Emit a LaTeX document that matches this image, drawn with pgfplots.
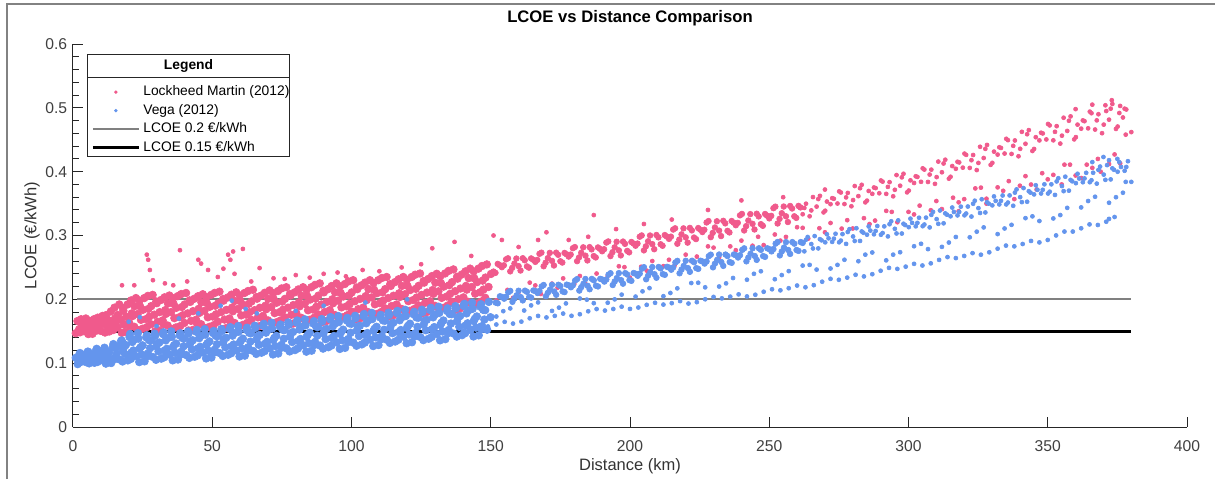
\documentclass[border=0pt]{standalone}
\usepackage{fontspec}
\setmainfont{Liberation Sans}
\usepackage{pgfplots}
\pgfplotsset{compat=1.18}
\definecolor{lm}{RGB}{240,90,140}
\definecolor{vega}{RGB}{100,149,237}
\definecolor{framegray}{RGB}{130,130,130}
\definecolor{axgray}{RGB}{38,38,38}
\pgfplotsset{
  pinkbig/.style={only marks, mark=*, mark size=2.3pt, color=lm, mark options={draw=none, fill=lm}},
  pinkmid/.style={only marks, mark=*, mark size=1.7pt, color=lm, mark options={draw=none, fill=lm}},
  pinksmall/.style={only marks, mark=*, mark size=1.2pt, color=lm, mark options={draw=none, fill=lm}},
  bluebig/.style={only marks, mark=*, mark size=2.3pt, color=vega, mark options={draw=none, fill=vega}},
  bluemid/.style={only marks, mark=*, mark size=1.7pt, color=vega, mark options={draw=none, fill=vega}},
  bluesmall/.style={only marks, mark=*, mark size=1.2pt, color=vega, mark options={draw=none, fill=vega}},
  lineleg/.style={legend image code/.code={\draw[##1] (0pt,0pt) -- (27.6pt,0pt);}},
  pinkleg/.style={legend image code/.code={\path[draw=none,fill=none] (0pt,0pt) -- (27.6pt,0pt); \fill[lm,draw=none] (13.8pt,0pt) circle (1.1pt);}},
  blueleg/.style={legend image code/.code={\path[draw=none,fill=none] (0pt,0pt) -- (27.6pt,0pt); \fill[vega,draw=none] (13.8pt,0pt) circle (1.1pt);}},
}
\begin{document}
\begin{tikzpicture}
\begin{axis}[
  scale only axis, width=668.4pt, height=229.8pt,
  xmin=0, xmax=400, ymin=0, ymax=0.6,
  axis x line*=bottom, axis y line*=left,
  axis line style={axgray, line width=0.6pt},
  xtick={0,50,100,150,200,250,300,350,400},
  ytick={0,0.1,0.2,0.3,0.4,0.5,0.6},
  minor y tick num=4,
  tick align=inside,
  major tick length=6pt, minor tick length=3.6pt,
  tick style={axgray, line width=0.6pt},
  /pgf/number format/assume math mode=true,
  tick label style={font=\fontsize{9.4}{11}\selectfont, color=black!75},
  xticklabel style={yshift=-4.5pt},
  xlabel={Distance (km)}, ylabel={LCOE (€/kWh)},
  label style={font=\fontsize{9.9}{12}\selectfont, color=black!80},
  xlabel style={at={(axis description cs:0.5,-0.1018)}, anchor=center},
  ylabel style={at={(axis description cs:-0.0368,0.5)}, anchor=center},
  title={LCOE vs Distance Comparison},
  title style={at={(axis description cs:0.5,1.042)}, anchor=center, font=\bfseries\fontsize{10}{12}\selectfont},
  legend cell align=left,
  legend style={at={(axis description cs:0.01257,0.9138)}, anchor=north west, draw=none, fill=none,
    inner xsep=2.4pt, inner ysep=3.3pt, row sep=0pt, column sep=0pt,
    nodes={inner xsep=1.8pt, inner ysep=1.8pt},
    font=\fontsize{8.3}{10}\selectfont},
]
% ---------------- Lockheed Martin (2012): dense region 0-150 km
\addplot[pinkbig, forget plot] coordinates {
(1,.147)(2.2,.153)(3.1,.160)(1.6,.166)
(4,.150)(5.2,.157)(6.1,.165)(4.6,.170)
(7,.146)(8.2,.154)(9.1,.161)(7.6,.169)
(10,.1505)(11.2,.161)(12.1,.167)(10.6,.174)
(13,.1496)(14.2,.160)(15.1,.1702)(13.6,.181)
(16,.156)(17.2,.168)(18.1,.182)(16.6,.192)
(19,.149)(20.2,.163)(21.1,.178)(19.6,.192)
(22,.157)(23.2,.177)(24.1,.189)(22.6,.202)
(25,.154)(26.2,.169)(27.1,.185)(25.6,.202)
(28,.161)(29.2,.176)(30.1,.194)(28.6,.207)
(31,.151)(32.2,.167)(33.1,.183)(31.6,.199)
(34,.159)(35.2,.180)(36.1,.193)(34.6,.206)
(37,.156)(38.2,.172)(39.1,.188)(37.6,.205)
(40,.163)(41.2,.178)(42.1,.196)(40.6,.210)
(43,.152)(44.2,.168)(45.1,.185)(43.6,.201)
(46,.161)(47.2,.182)(48.1,.194)(46.6,.208)
(49,.157)(50.2,.173)(51.1,.190)(49.6,.207)
(52,.165)(53.2,.180)(54.1,.198)(52.6,.212)
(55,.155)(56.2,.170)(57.1,.187)(55.6,.203)
(58,.163)(59.2,.185)(60.1,.197)(58.6,.211)
(61,.160)(62.2,.176)(63.1,.193)(61.6,.210)
(64,.168)(65.2,.183)(66.1,.201)(64.6,.215)
(67,.158)(68.2,.174)(69.1,.190)(67.6,.206)
(70,.167)(71.2,.188)(72.1,.200)(70.6,.214)
(73,.164)(74.2,.180)(75.1,.1965)(73.6,.213)
(76,.172)(77.2,.187)(78.1,.206)(76.6,.219)
(79,.162)(80.2,.178)(81.1,.195)(79.6,.211)
(82,.171)(83.2,.193)(84.1,.205)(82.6,.219)
(85,.168)(86.2,.184)(87.1,.201)(85.6,.219)
(88,.1765)(89.2,.192)(90.1,.211)(88.6,.225)
(91,.166)(92.2,.183)(93.1,.200)(91.6,.216)
(94,.1755)(95.2,.198)(96.1,.210)(94.6,.225)
(97,.172)(98.2,.189)(99.1,.206)(97.6,.224)
(100,.181)(101.2,.197)(102.1,.216)(100.6,.230)
(103,.170)(104.2,.187)(105.1,.205)(103.6,.222)
(106,.180)(107.2,.203)(108.1,.215)(106.6,.230)
(109,.177)(110.2,.194)(111.1,.211)(109.6,.230)
(112,.186)(113.2,.202)(114.1,.221)(112.6,.235)
(115,.175)(116.2,.192)(117.1,.2095)(115.6,.227)
(118,.185)(119.2,.208)(120.1,.221)(118.6,.235)
(121,.182)(122.2,.199)(123.1,.2165)(121.6,.235)
(124,.1906)(125.2,.207)(126.1,.2262)(124.6,.2405)
(127,.180)(128.2,.197)(129.1,.2145)(127.6,.232)
(130,.1898)(131.2,.2125)(132.1,.2255)(130.6,.240)
(133,.1867)(134.2,.2044)(135.1,.2221)(133.6,.2405)
(136,.1962)(137.2,.2127)(138.1,.2324)(136.6,.2469)
(139,.1858)(140.2,.2031)(141.1,.221)(139.6,.2389)
(142,.196)(143.2,.2194)(144.1,.2328)(142.6,.2481)
(145,.1929)(146.2,.2111)(147.1,.2293)(145.6,.2481)
(148,.2025)(149.2,.2194)(150.1,.2398)(148.6,.2547)
(2.5,.1483)(3.4,.1552)(4.1,.1621)(2.9,.1688)
(5.5,.1456)(6.4,.1523)(7.1,.159)(5.9,.1665)
(8.5,.1511)(9.4,.1589)(10.1,.1667)(8.9,.1713)
(11.5,.148)(12.4,.1576)(13.1,.1668)(11.9,.1753)
(14.5,.152)(15.4,.1638)(16.1,.1756)(14.9,.187)
(17.5,.1475)(18.4,.1601)(19.1,.1727)(17.9,.1867)
(20.5,.1584)(21.4,.1738)(22.1,.1893)(20.9,.1984)
(23.5,.1516)(24.4,.1679)(25.1,.1836)(23.9,.1981)
(26.5,.1564)(27.4,.1729)(28.1,.1894)(26.9,.2054)
(29.5,.1499)(30.4,.1649)(31.1,.1799)(29.9,.1966)
(32.5,.1611)(33.4,.1773)(34.1,.1936)(32.9,.2032)
(35.5,.1536)(36.4,.1705)(37.1,.1867)(35.9,.2018)
(38.5,.1581)(39.4,.1751)(40.1,.192)(38.9,.2083)
(41.5,.1512)(42.4,.1663)(43.1,.1815)(41.9,.1984)
(44.5,.1624)(45.4,.1788)(46.1,.1952)(44.9,.2049)
(47.5,.1548)(48.4,.1719)(49.1,.1883)(47.9,.2035)
(50.5,.1595)(51.4,.1766)(52.1,.1936)(50.9,.2101)
(53.5,.1531)(54.4,.1683)(55.1,.1835)(53.9,.2005)
(56.5,.1649)(57.4,.1813)(58.1,.1976)(56.9,.2073)
(59.5,.1579)(60.4,.1749)(61.1,.1912)(59.9,.2063)
(62.5,.163)(63.4,.1799)(64.1,.1968)(62.9,.2131)
(65.5,.1567)(66.4,.1718)(67.1,.1868)(65.9,.2036)
(68.5,.1684)(69.4,.1846)(70.1,.2008)(68.9,.2104)
(71.5,.1615)(72.4,.1784)(73.1,.1946)(71.9,.2097)
(74.5,.1668)(75.4,.1837)(76.1,.2007)(74.9,.2171)
(77.5,.1605)(78.4,.1758)(79.1,.191)(77.9,.2081)
(80.5,.1726)(81.4,.1891)(82.1,.2057)(80.9,.2155)
(83.5,.1656)(84.4,.1829)(85.1,.1996)(83.9,.215)
(86.5,.171)(87.4,.1884)(88.1,.2058)(86.9,.2226)
(89.5,.1645)(90.4,.1802)(91.1,.1958)(89.9,.2133)
(92.5,.1768)(93.4,.1939)(94.1,.2109)(92.9,.2209)
(95.5,.1697)(96.4,.1874)(97.1,.2045)(95.9,.2204)
(98.5,.1752)(99.4,.193)(100.1,.2109)(98.9,.2281)
(101.5,.1686)(102.4,.1846)(103.1,.2007)(101.9,.2186)
(104.5,.1814)(105.4,.1987)(106.1,.216)(104.9,.2263)
(107.5,.1742)(108.4,.1922)(109.1,.2096)(107.9,.2257)
(110.5,.1799)(111.4,.198)(112.1,.216)(110.9,.2334)
(113.5,.1734)(114.4,.1895)(115.1,.2057)(113.9,.2237)
(116.5,.1862)(117.4,.2037)(118.1,.2211)(116.9,.2314)
(119.5,.179)(120.4,.1972)(121.1,.2146)(119.9,.2308)
(122.5,.1848)(123.4,.2029)(124.1,.2211)(122.9,.2386)
(125.5,.1782)(126.4,.1944)(127.1,.2106)(125.9,.2287)
(128.5,.1911)(129.4,.2086)(130.1,.2261)(128.9,.2365)
(131.5,.1841)(132.4,.2023)(133.1,.2199)(131.9,.2362)
(134.5,.1902)(135.4,.2085)(136.1,.2269)(134.9,.2446)
(137.5,.1838)(138.4,.2003)(139.1,.2169)(137.9,.2354)
(140.5,.1973)(141.4,.2152)(142.1,.2332)(140.9,.2438)
(143.5,.1902)(144.4,.2089)(145.1,.227)(143.9,.2438)
(146.5,.1964)(147.4,.2153)(148.1,.2341)(146.9,.2523)
};
% ---------------- Lockheed Martin (2012): upper band 150-260 km
\addplot[pinkmid, forget plot] coordinates {
(151,.2435)(152.5,.2555)(154,.2504)(155.5,.2626)(157,.2438)(158.5,.2561)(160,.252)(161.5,.2644)
(163,.2516)(164.5,.2641)(166,.2587)(167.5,.2713)(169,.2518)(170.5,.2646)(172,.2602)(173.5,.2731)
(175,.2597)(176.5,.2727)(178,.267)(179.5,.2801)(181,.2598)(182.5,.273)(184,.2684)(185.5,.2818)
(187,.2678)(188.5,.2813)(190,.2753)(191.5,.2889)(193,.2678)(194.5,.2815)(196,.2767)(197.5,.2905)
(199,.2759)(200.5,.2899)(202,.284)(203.5,.2981)(205,.2767)(206.5,.2909)(208,.2865)(209.5,.3008)
(211,.2863)(212.5,.3007)(214,.2947)(215.5,.3093)(217,.2871)(218.5,.3018)(220,.2971)(221.5,.3119)
(223,.2968)(224.5,.3117)(226,.3054)(227.5,.3204)(229,.2974)(230.5,.3126)(232,.3077)(233.5,.323)
(235,.3073)(236.5,.3227)(238,.3161)(239.5,.3316)(241,.3079)(242.5,.3235)(244,.3183)(245.5,.3341)
(247,.3178)(248.5,.3337)(250,.3268)(251.5,.3428)(253,.3188)(254.5,.3349)(256,.3301)(257.5,.3463)
(259,.3301)(260.5,.3464)
(151.7,.2415)(153.2,.2536)(154.7,.2533)(156.2,.2643)(157.7,.2493)(159.2,.264)(160.7,.2451)(162.2,.2612)
(163.7,.2496)(165.2,.2621)(166.7,.2617)(168.2,.2731)(169.7,.2574)(171.2,.2728)(172.7,.253)(174.2,.2698)
(175.7,.2576)(177.2,.2706)(178.7,.2701)(180.2,.2819)(181.7,.2656)(183.2,.2815)(184.7,.2609)(186.2,.2783)
(187.7,.2656)(189.2,.2791)(190.7,.2785)(192.2,.2907)(193.7,.2738)(195.2,.2902)(196.7,.2688)(198.2,.2869)
(199.7,.2736)(201.2,.2876)(202.7,.2874)(204.2,.3001)(205.7,.283)(207.2,.3)(208.7,.2785)(210.2,.2971)
(211.7,.2839)(213.2,.2984)(214.7,.2982)(216.2,.3113)(217.7,.2936)(219.2,.3112)(220.7,.2888)(222.2,.308)
(223.7,.2944)(225.2,.3093)(226.7,.309)(228.2,.3226)(229.7,.3041)(231.2,.3223)(232.7,.2991)(234.2,.319)
(235.7,.3048)(237.2,.3202)(238.7,.3198)(240.2,.3338)(241.7,.3147)(243.2,.3335)(244.7,.3094)(246.2,.3299)
(247.7,.3152)(249.2,.3311)(250.7,.3308)(252.2,.3452)(253.7,.3261)(255.2,.3454)(256.7,.3211)(258.2,.3423)
(259.7,.3276)(261.2,.344)
};
% ---------------- Lockheed Martin (2012): sparse points
\addplot[pinksmall, pinkleg] coordinates {
(262,.3333)(263.2,.3498)(264.5,.3301)(265.7,.3602)(267,.3453)(268.2,.3621)(269.5,.3362)(270.7,.3532)
(272,.3491)(273.2,.3576)(274.5,.3501)(275.7,.3674)(277,.3493)(278.2,.3667)(279.5,.3458)(280.7,.3775)
(282,.3617)(283.2,.3794)(284.5,.3519)(285.7,.3698)(287,.3653)(288.2,.3743)(289.5,.3662)(290.7,.3844)
(292,.3652)(293.2,.3836)(294.5,.3614)(295.7,.3947)(297,.378)(298.2,.3967)(299.5,.3676)(300.7,.3864)
(302,.3823)(303.2,.3918)(304.5,.3841)(305.7,.4033)(307,.3839)(308.2,.4032)(309.5,.3809)(310.7,.4158)
(312,.3991)(313.2,.4187)(314.5,.389)(315.7,.4088)(317,.4045)(318.2,.4145)(319.5,.4063)(320.7,.4263)
(322,.4059)(323.2,.4261)(324.5,.4025)(325.7,.439)(327,.4214)(328.2,.4419)(329.5,.4107)(330.7,.4314)
(332,.4268)(333.2,.4372)(334.5,.4284)(335.7,.4494)(337,.4278)(338.2,.4489)(339.5,.4241)(340.7,.4624)
(342,.4437)(343.2,.4651)(344.5,.4324)(345.7,.454)(347,.449)(348.2,.4599)(349.5,.4505)(350.7,.4725)
(352,.4491)(353.2,.4713)(354.5,.444)(355.7,.4845)(357,.4638)(358.2,.4866)(359.5,.4506)(360.7,.4737)
(362,.4674)(363.2,.4791)(364.5,.4679)(365.7,.4916)(367,.466)(368.2,.49)(369.5,.4603)(370.7,.504)
(372,.4815)(373.2,.5061)(374.5,.467)(375.7,.4919)(377,.4849)(378.2,.4974)
(262.6,.3432)(265.1,.3393)(267.6,.3571)(270.1,.3388)(272.6,.3585)(275.1,.3691)(277.6,.3597)(280.1,.3555)
(282.6,.3741)(285.1,.3546)(287.6,.3752)(290.1,.3862)(292.6,.3762)(295.1,.3716)(297.6,.3911)(300.1,.3704)
(302.6,.3928)(305.1,.4052)(307.6,.3955)(310.1,.3915)(312.6,.4128)(315.1,.392)(317.6,.4155)(320.1,.4283)
(322.6,.418)(325.1,.4137)(327.6,.4358)(330.1,.4138)(332.6,.4382)(335.1,.4515)(337.6,.4405)(340.1,.4358)
(342.6,.4587)(345.1,.4356)(347.6,.461)(350.1,.4747)(352.6,.4624)(355.1,.4564)(357.6,.4798)(360.1,.4541)
(362.6,.4803)(365.1,.494)(367.6,.4804)(370.1,.4737)(372.6,.4987)(375.1,.4707)(377.6,.4987)
(373,.512)(376,.503)(378,.458)(380,.462)(371,.495)(366,.505)(360,.498)
(152,.1986)(156,.2148)(160,.211)(164,.2262)(168,.2084)(172,.2246)(176,.2328)(180,.224)
(184,.2242)(188,.2404)(192,.2366)(196,.2518)(200,.234)(204,.251)(208,.26)(212,.252)
(216,.253)(220,.27)(224,.267)(228,.283)(232,.266)(236,.283)(240,.292)(244,.284)
(248,.285)(252,.3016)(256,.2978)(260,.313)(264,.2952)(268,.3114)(272,.3196)(276,.3108)
(280,.311)(284,.3272)(288,.3234)(292,.3386)(296,.3208)(300,.337)(304,.3468)(308,.3396)
(312,.3414)(316,.3592)(320,.357)(324,.3738)(328,.3576)(332,.3754)(336,.3852)(340,.378)
(344,.3798)(348,.3976)(352,.395)(356,.411)(360,.394)(364,.411)(368,.42)(372,.412)(376,.413)
(158,.2024)(166,.2218)(174,.2182)(182,.2366)(190,.2310)(198,.2504)(206,.2450)(214,.2620)
(222,.2600)(230,.2810)(238,.2770)(246,.2980)(254,.2920)(262,.3120)(270,.3050)(278,.3240)
(286,.3180)(294,.3370)(302,.3330)(310,.3540)(318,.3520)(326,.3750)(334,.3700)(342,.3930)
(350,.3880)(358,.4110)(366,.4060)(374,.4270)
(318,.338)(328,.35)(338,.357)(346,.372)(355,.38)(362,.39)(369,.40)
(17.6,.222)(22,.222)(26.5,.27)(27,.262)(27.6,.246)(28.7,.23)(33,.225)(36,.222)(38.4,.277)
(41,.228)(45,.262)(46,.256)(48.5,.246)(52,.235)(54,.248)(55.7,.27)(56.5,.262)(57.5,.275)
(58,.24)(61,.279)(64,.228)(67,.249)(72,.233)(76,.232)(80,.238)(85,.234)(90,.24)(95,.242)
(98,.236)(104,.246)(110,.244)(118,.25)(125,.255)(129,.28)(137,.29)(143,.268)
(151,.30)(154,.293)(160,.282)(167,.293)(170,.305)(178,.293)(185,.298)(187,.332)(195,.31)
(205,.318)(215,.325)(228,.34)(240,.355)(255,.36)(270,.372)
};
\addlegendentry{Lockheed Martin (2012)}
% ---------------- Vega (2012): dense region 0-150 km
\addplot[bluebig, forget plot] coordinates {
(1.7,.0985)(2.9,.1034)(1,.1084)(2.3,.1135)
(4.7,.1016)(5.9,.109)(4,.1132)(5.3,.1181)
(7.7,.1006)(8.9,.107)(7,.1133)(8.3,.1199)
(10.7,.1042)(11.9,.1107)(10,.1185)(11.3,.1242)
(13.7,.1002)(14.9,.1084)(13,.1169)(14.3,.1253)
(16.7,.1058)(17.9,.1189)(16,.1264)(17.3,.135)
(19.7,.1044)(20.9,.1164)(19,.1284)(20.3,.1409)
(22.7,.1108)(23.9,.1226)(22,.1367)(23.3,.147)
(25.7,.1029)(26.9,.1152)(25,.1279)(26.3,.1405)
(28.7,.1097)(29.9,.1261)(28,.1355)(29.3,.1463)
(31.7,.1071)(32.9,.1198)(31,.1324)(32.3,.1456)
(34.7,.1134)(35.9,.1252)(34,.1394)(35.3,.1498)
(37.7,.1057)(38.9,.118)(37,.1308)(38.3,.1436)
(40.7,.1126)(41.9,.1293)(40,.1388)(41.3,.1497)
(43.7,.1101)(44.9,.123)(43,.1358)(44.3,.1491)
(46.7,.1166)(47.9,.1285)(46,.1429)(47.3,.1534)
(49.7,.1088)(50.9,.1212)(49,.1341)(50.3,.1471)
(52.7,.1158)(53.9,.1327)(52,.1424)(53.3,.1535)
(55.7,.1132)(56.9,.1265)(55,.1397)(56.3,.1534)
(58.7,.1199)(59.9,.1323)(58,.1472)(59.3,.1581)
(61.7,.1118)(62.9,.1249)(61,.1384)(62.3,.152)
(64.7,.1191)(65.9,.1369)(64,.1471)(65.3,.1587)
(67.7,.1164)(68.9,.1303)(67,.1442)(68.3,.1586)
(70.7,.1234)(71.9,.1364)(70,.152)(71.3,.1634)
(73.7,.1151)(74.9,.1287)(73,.1428)(74.3,.1569)
(76.7,.1231)(77.9,.1414)(76,.1519)(77.3,.1639)
(79.7,.1205)(80.9,.1347)(79,.1489)(80.3,.1636)
(82.7,.128)(83.9,.1412)(82,.157)(83.3,.1686)
(85.7,.1196)(86.9,.1333)(85,.1477)(86.3,.162)
(88.7,.1276)(89.9,.1462)(88,.1568)(89.3,.1691)
(91.7,.125)(92.9,.1394)(91,.1538)(92.3,.1688)
(94.7,.1325)(95.9,.1459)(94,.162)(95.3,.1738)
(97.7,.124)(98.9,.138)(97,.1525)(98.3,.167)
(100.7,.1321)(101.9,.151)(100,.1618)(101.3,.1742)
(103.7,.1294)(104.9,.144)(103,.1586)(104.3,.1738)
(106.7,.137)(107.9,.1506)(106,.1669)(107.3,.1788)
(109.7,.1284)(110.9,.1425)(109,.157)(110.3,.1716)
(112.7,.1366)(113.9,.1556)(112,.1665)(113.3,.179)
(115.7,.1339)(116.9,.1486)(115,.1633)(116.3,.1786)
(118.7,.1415)(119.9,.1552)(118,.1716)(119.3,.1836)
(121.7,.1328)(122.9,.147)(121,.1618)(122.3,.1766)
(124.7,.141)(125.9,.1602)(124,.1712)(125.3,.1838)
(127.7,.1383)(128.9,.1531)(127,.1679)(128.3,.1833)
(130.7,.146)(131.9,.1598)(130,.1763)(131.3,.1884)
(133.7,.1376)(134.9,.152)(133,.1669)(134.3,.1818)
(136.7,.1463)(137.9,.1657)(136,.1767)(137.3,.1894)
(139.7,.1439)(140.9,.1589)(139,.1739)(140.3,.1895)
(142.7,.1521)(143.9,.166)(142,.1827)(143.3,.1949)
(145.7,.1436)(146.9,.1581)(145,.1732)(146.3,.1883)
(148.7,.1524)(149.9,.172)(148,.1831)(149.3,.196)
(2.8,.1019)(3.7,.1073)(3.3,.1127)(2.5,.1159)
(5.8,.0997)(6.7,.106)(6.3,.112)(5.5,.1176)
(8.8,.1019)(9.7,.1088)(9.3,.1158)(8.5,.1225)
(11.8,.0993)(12.7,.1065)(12.3,.1137)(11.5,.1217)
(14.8,.106)(15.7,.1152)(15.3,.1245)(14.5,.1299)
(17.8,.1026)(18.7,.114)(18.3,.1251)(17.5,.1354)
(20.8,.1067)(21.7,.1199)(21.3,.1331)(20.5,.1458)
(23.8,.1017)(24.7,.1135)(24.3,.1252)(23.5,.1384)
(26.8,.1108)(27.7,.1235)(27.3,.1361)(26.5,.1437)
(29.8,.1053)(30.7,.1184)(30.3,.1311)(29.5,.1429)
(32.8,.1093)(33.7,.1225)(33.3,.1357)(32.5,.1484)
(35.8,.1044)(36.7,.1162)(36.3,.1281)(35.5,.1413)
(38.8,.1137)(39.7,.1265)(39.3,.1393)(38.5,.1469)
(41.8,.1083)(42.7,.1216)(42.3,.1345)(41.5,.1464)
(44.8,.1123)(45.7,.1257)(45.3,.1391)(44.5,.152)
(47.8,.1074)(48.7,.1194)(48.3,.1314)(47.5,.1448)
(50.8,.1168)(51.7,.1297)(51.3,.1427)(50.5,.1504)
(53.8,.1113)(54.7,.125)(54.3,.1381)(53.5,.1503)
(56.8,.1155)(57.7,.1293)(57.3,.1431)(56.5,.1564)
(59.8,.1104)(60.7,.1229)(60.3,.1354)(59.5,.1493)
(62.8,.1202)(63.7,.1338)(63.3,.1475)(62.5,.1555)
(65.8,.1145)(66.7,.1288)(66.3,.1426)(65.5,.1553)
(68.8,.1188)(69.7,.1333)(69.3,.1478)(68.5,.1617)
(71.8,.1136)(72.7,.1266)(72.3,.1396)(71.5,.1542)
(74.8,.1241)(75.7,.1382)(75.3,.1523)(74.5,.1606)
(77.8,.1184)(78.7,.1331)(78.3,.1472)(77.5,.1603)
(80.8,.1232)(81.7,.1379)(81.3,.1527)(80.5,.1669)
(83.8,.118)(84.7,.1312)(84.3,.1445)(83.5,.1593)
(86.8,.1287)(87.7,.143)(87.3,.1573)(86.5,.1658)
(89.8,.1228)(90.7,.1377)(90.3,.1521)(89.5,.1655)
(92.8,.1276)(93.7,.1426)(93.3,.1576)(92.5,.1721)
(95.8,.1223)(96.7,.1358)(96.3,.1492)(95.5,.1643)
(98.8,.1331)(99.7,.1477)(99.3,.1623)(98.5,.1709)
(101.8,.1273)(102.7,.1424)(102.3,.157)(101.5,.1705)
(104.8,.1322)(105.7,.1473)(105.3,.1625)(104.5,.1771)
(107.8,.1268)(108.7,.1404)(108.3,.1539)(107.5,.1691)
(110.8,.1377)(111.7,.1523)(111.3,.167)(110.5,.1757)
(113.8,.1317)(114.7,.147)(114.3,.1616)(113.5,.1752)
(116.8,.1366)(117.7,.1519)(117.3,.1672)(116.5,.1819)
(119.8,.1312)(120.7,.1449)(120.3,.1585)(119.5,.1738)
(122.8,.1421)(123.7,.1569)(123.3,.1717)(122.5,.1804)
(125.8,.1361)(126.7,.1515)(126.3,.1663)(125.5,.18)
(128.8,.1411)(129.7,.1565)(129.3,.1718)(128.5,.1867)
(131.8,.1358)(132.7,.1496)(132.3,.1633)(131.5,.1787)
(134.8,.1472)(135.7,.1621)(135.3,.177)(134.5,.1859)
(137.8,.1416)(138.7,.157)(138.3,.172)(137.5,.1858)
(140.8,.147)(141.7,.1625)(141.3,.178)(140.5,.193)
(143.8,.1418)(144.7,.1557)(144.3,.1696)(143.5,.1852)
(146.8,.1533)(147.7,.1684)(147.3,.1835)(146.5,.1924)
};
% ---------------- Vega (2012): upper band 150-260 km
\addplot[bluemid, forget plot] coordinates {
(151.8,.1948)(153.3,.2048)(154.8,.201)(156.3,.2111)(157.8,.1961)(159.3,.2063)(160.8,.2034)(162.3,.2136)
(163.8,.2036)(165.3,.2139)(166.8,.2099)(168.3,.2203)(169.8,.2049)(171.3,.2153)(172.8,.2123)(174.3,.2228)
(175.8,.2124)(177.3,.223)(178.8,.2189)(180.3,.2295)(181.8,.2137)(183.3,.2244)(184.8,.2212)(186.3,.232)
(187.8,.2213)(189.3,.2321)(190.8,.2278)(192.3,.2387)(193.8,.2224)(195.3,.2334)(196.8,.2301)(198.3,.2411)
(199.8,.2301)(201.3,.2412)(202.8,.2369)(204.3,.2481)(205.8,.2314)(207.3,.2426)(208.8,.2394)(210.3,.2507)
(211.8,.2395)(213.3,.2509)(214.8,.2464)(216.3,.2578)(217.8,.2408)(219.3,.2523)(220.8,.2489)(222.3,.2605)
(223.8,.2489)(225.3,.2605)(226.8,.256)(228.3,.2677)(229.8,.2501)(231.3,.2619)(232.8,.2584)(234.3,.2702)
(235.8,.2584)(237.3,.2703)(238.8,.2655)(240.3,.2775)(241.8,.2595)(243.3,.2715)(244.8,.2679)(246.3,.28)
(247.8,.2678)(249.3,.28)(250.8,.2751)(252.3,.2873)(253.8,.2688)(255.3,.2811)(256.8,.2773)(258.3,.2897)
(259.8,.2773)(261.3,.2897)
(152.5,.1938)(154,.2039)(155.5,.2041)(157,.2132)(158.5,.2013)(160,.2135)(161.5,.1983)(163,.2117)
(164.5,.2027)(166,.213)(167.5,.2131)(169,.2225)(170.5,.2102)(172,.2228)(173.5,.2071)(175,.2208)
(176.5,.2114)(178,.222)(179.5,.2221)(181,.2317)(182.5,.2191)(184,.2319)(185.5,.2158)(187,.2298)
(188.5,.2202)(190,.2311)(191.5,.2311)(193,.2409)(194.5,.2279)(196,.2411)(197.5,.2245)(199,.2389)
(200.5,.229)(202,.2401)(203.5,.2403)(205,.2504)(206.5,.2371)(208,.2506)(209.5,.2338)(211,.2485)
(212.5,.2384)(214,.2498)(215.5,.2499)(217,.2603)(218.5,.2466)(220,.2604)(221.5,.2431)(223,.2582)
(224.5,.2477)(226,.2594)(227.5,.2595)(229,.27)(230.5,.256)(232,.2702)(233.5,.2524)(235,.2679)
(236.5,.2572)(238,.2691)(239.5,.2691)(241,.2799)(242.5,.2655)(244,.28)(245.5,.2618)(247,.2775)
(248.5,.2665)(250,.2787)(251.5,.2787)(253,.2898)(254.5,.275)(256,.2897)(257.5,.2711)(259,.2872)
(260.5,.2759)(262,.2884)
};
% ---------------- Vega (2012): sparse points
\addplot[bluesmall, blueleg] coordinates {
(262.6,.2752)(263.8,.2977)(265.1,.2866)(266.3,.2991)(267.6,.2798)(268.8,.2924)(270.1,.2893)(271.3,.2956)
(272.6,.29)(273.8,.3027)(275.1,.2894)(276.3,.3022)(277.6,.2869)(278.8,.31)(280.1,.2985)(281.3,.3114)
(282.6,.2915)(283.8,.3044)(285.1,.3012)(286.3,.3077)(287.6,.3019)(288.8,.3149)(290.1,.3012)(291.3,.3143)
(292.6,.2986)(293.8,.3223)(295.1,.3105)(296.3,.3237)(297.6,.3031)(298.8,.3164)(300.1,.3131)(301.3,.3198)
(302.6,.3144)(303.8,.3278)(305.1,.3146)(306.3,.328)(307.6,.3127)(308.8,.337)(310.1,.3257)(311.3,.3392)
(312.6,.3191)(313.8,.3327)(315.1,.3301)(316.3,.3369)(317.6,.3315)(318.8,.3452)(320.1,.3316)(321.3,.3454)
(322.6,.3297)(323.8,.3545)(325.1,.3429)(326.3,.3568)(327.6,.3361)(328.8,.35)(330.1,.3472)(331.3,.3542)
(332.6,.3487)(333.8,.3627)(335.1,.3487)(336.3,.3628)(337.6,.3466)(338.8,.3722)(340.1,.3601)(341.3,.3743)
(342.6,.3529)(343.8,.3672)(345.1,.3644)(346.3,.3716)(347.6,.3658)(348.8,.3802)(350.1,.3658)(351.3,.3802)
(352.6,.3636)(353.8,.3897)(355.1,.3775)(356.3,.3921)(357.6,.3703)(358.8,.3849)(360.1,.382)(361.3,.3893)
(362.6,.3835)(363.8,.3982)(365.1,.3835)(366.3,.3983)(367.6,.3813)(368.8,.408)(370.1,.3954)(371.3,.4103)
(372.6,.3879)(373.8,.4029)(375.1,.3999)(376.3,.4074)(377.6,.4014)(378.8,.4164)
(263.2,.2934)(265.7,.2797)(268.2,.2943)(270.7,.302)(273.2,.2951)(275.7,.292)(278.2,.3055)(280.7,.2914)
(283.2,.3063)(285.7,.3142)(288.2,.3071)(290.7,.3039)(293.2,.3177)(295.7,.3032)(298.2,.3184)(300.7,.3264)
(303.2,.3198)(305.7,.3172)(308.2,.3323)(310.7,.3183)(313.2,.3347)(315.7,.3438)(318.2,.337)(320.7,.3344)
(323.2,.3497)(325.7,.3353)(328.2,.3521)(330.7,.3612)(333.2,.3543)(335.7,.3516)(338.2,.3672)(340.7,.3523)
(343.2,.3694)(345.7,.3787)(348.2,.3716)(350.7,.3686)(353.2,.3847)(355.7,.3695)(358.2,.3871)(360.7,.3967)
(363.2,.3894)(365.7,.3865)(368.2,.4028)(370.7,.3872)(373.2,.4052)(375.7,.4149)(378.2,.4074)
(370,.423)(372,.418)(366,.415)(378,.384)(380,.384)(375,.42)
(152,.1731)(157,.1858)(162,.1825)(167,.1952)(172,.1819)(177,.1936)(182,.2013)(187,.194)
(192,.1947)(197,.2074)(202,.2043)(207,.2176)(212,.2049)(217,.2172)(222,.2255)(227,.2188)
(232,.2201)(237,.2334)(242,.2307)(247,.244)(252,.2315)(257,.2442)(262,.2529)(267,.2466)
(272,.2483)(277,.262)(282,.2597)(287,.2734)(292,.2611)(297,.2738)(302,.2832)(307,.2787)
(312,.2822)(317,.2977)(322,.2972)(327,.3127)(332,.3022)(337,.3167)(342,.3272)(347,.3227)
(352,.3267)(357,.3433)(362,.344)(367,.3607)(372,.3513)(377,.367)
(154.5,.1815)(164.5,.1905)(174.5,.1870)(184.5,.1995)(194.5,.2000)(204.5,.2125)(214.5,.2100)
(224.5,.2260)(234.5,.2250)(244.5,.2400)(254.5,.2380)(264.5,.2540)(274.5,.2540)(284.5,.2700)
(294.5,.2700)(304.5,.2870)(314.5,.2890)(324.5,.3060)(334.5,.3110)(344.5,.3300)(354.5,.3320)
(364.5,.3540)(374.5,.3600)
(140,.150)(143,.1552)(146,.1593)(149,.1575)(152,.1606)(155,.1648)(158,.162)(161,.1651)
(164,.1703)(167,.174)(170,.1716)(173,.1741)(176,.1777)(179,.1742)(182,.1767)(185,.1813)
(188,.1848)(191,.1824)(194,.1849)(197,.1885)(200,.185)(203,.1872)(206,.1914)(209,.1946)
(212,.1918)(215,.194)(218,.1972)(221,.1934)(224,.1956)(227,.2001)(230,.2038)(233,.2015)
(236,.2042)(239,.2078)(242,.2045)(245,.2072)(248,.2119)(251,.2158)(254,.2141)(257,.2174)
(260,.2216)(263,.2189)(266,.2222)(269,.2276)(272,.2321)(275,.2306)(278,.234)(281,.2385)
(284,.2359)(287,.2394)(290,.2448)(293,.2493)(296,.2477)(299,.2512)(302,.2556)(305,.253)
(308,.2564)(311,.2618)(314,.2662)(317,.2646)(320,.268)(323,.2724)(326,.2699)(329,.2737)
(332,.2794)(335,.2842)(338,.283)(341,.2867)(344,.2915)(347,.2892)(350,.293)(353,.3001)
(356,.3062)(359,.3062)(362,.3113)(365,.3174)(368,.3165)(371,.3216)(374,.329)(372,.326)
(20,.165)(24,.172)(30,.158)(38,.17)(45,.178)(53,.19)(57,.198)(62,.185)(66,.178)(80,.182)
(90,.19)(105,.195)(120,.2)
};
\addlegendentry{Vega (2012)}
% ---------------- reference lines
\addplot[color=gray, line width=1.2pt, lineleg] coordinates {(1.5,0.2) (380,0.2)};
\addlegendentry{LCOE 0.2 €/kWh}
\addplot[color=black, line width=1.8pt, lineleg] coordinates {(1.5,0.15) (380,0.15)};
\addlegendentry{LCOE 0.15 €/kWh}
% ---------------- legend frame with title
\draw[fill=white, draw=axgray, line width=0.6pt] (axis description cs:0.01257,0.705) rectangle (axis description cs:0.1948,0.9138);
\draw[fill=white, draw=axgray, line width=0.6pt] (axis description cs:0.01257,0.9138) rectangle (axis description cs:0.1948,0.9713);
\node[font=\bfseries\fontsize{8.3}{10}\selectfont, anchor=center] at (axis description cs:0.1037,0.9426) {Legend};
\coordinate (O) at (rel axis cs:0,0);
\end{axis}
\draw[framegray, line width=1.5pt] ([shift={(-39.6pt,-31.2pt)}]O) -- ([shift={(-39.6pt,253.8pt)}]O) -- ([shift={(685.2pt,253.8pt)}]O);
\pgfresetboundingbox
\path[use as bounding box] ([shift={(-43.8pt,-31.2pt)}]O) rectangle ([shift={(685.2pt,256.2pt)}]O);
\end{tikzpicture}
\end{document}
